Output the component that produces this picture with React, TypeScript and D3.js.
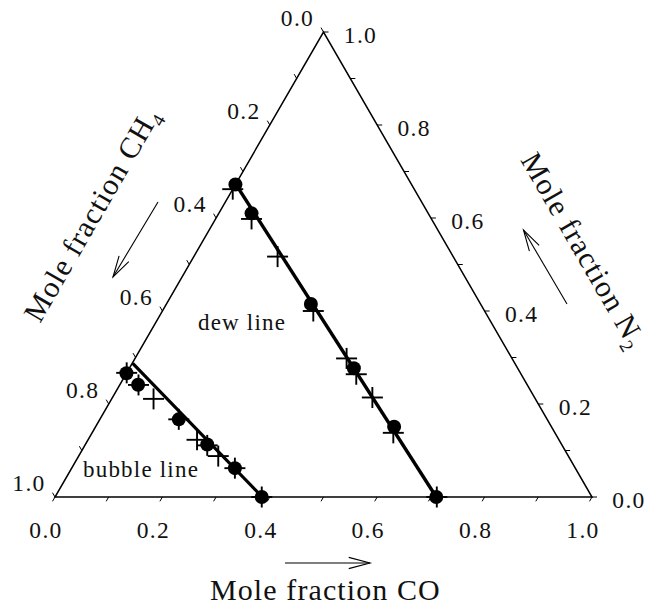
import React from "react";
import * as d3 from "d3";

// Ternary data: each point given by mole fraction CO and N2 (CH4 = 1 - CO - N2)
const dewCircleCO = [0.0, 0.061, 0.269, 0.418, 0.556, 0.71];
const dewCircleN2 = [0.672, 0.61, 0.415, 0.277, 0.151, 0.0];
const dewPlusCO = [0.0, 0.067, 0.156, 0.281, 0.394, 0.429, 0.484, 0.561, 0.711];
const dewPlusN2 = [0.662, 0.598, 0.517, 0.4, 0.298, 0.264, 0.214, 0.138, 0.0];
const dewLineCO = [0.0, 0.71];
const dewLineN2 = [0.673, 0.0];

const bubbleCircleCO = [0.0, 0.034, 0.147, 0.227, 0.304, 0.385];
const bubbleCircleN2 = [0.266, 0.2415, 0.167, 0.113, 0.062, 0.0];
const bubblePlusCO = [0.0, 0.035, 0.078, 0.147, 0.203, 0.228, 0.26, 0.304, 0.385];
const bubblePlusN2 = [0.267, 0.241, 0.211, 0.167, 0.123, 0.111, 0.088, 0.062, 0.0];
const bubbleLineCO = [0.001, 0.386];
const bubbleLineN2 = [0.2875, 0.0];

const tickValues = [0, 0.1, 0.2, 0.3, 0.4, 0.5, 0.6, 0.7, 0.8, 0.9, 1.0];
const labelValues = [0, 0.2, 0.4, 0.6, 0.8, 1.0];

const W = 647;
const H = 614;
const FONT = "'Liberation Serif', 'Times New Roman', Times, serif";

const xs = d3.scaleLinear().domain([0, 1]).range([55, 592]);
const ys = d3.scaleLinear().domain([0, 1]).range([497, 32]);
const proj = (co: number, n2: number): [number, number] => [xs(co + n2 / 2), ys(n2)];

const zip = (a: number[], b: number[]) => a.map((v, i) => proj(v, b[i]));

function Arrow({ x1, y1, x2, y2 }: { x1: number; y1: number; x2: number; y2: number }) {
  const ang = Math.atan2(y2 - y1, x2 - x1);
  const L = 22;
  const spread = 0.26;
  const h1: [number, number] = [x2 - L * Math.cos(ang - spread), y2 - L * Math.sin(ang - spread)];
  const h2: [number, number] = [x2 - L * Math.cos(ang + spread), y2 - L * Math.sin(ang + spread)];
  return (
    <g stroke="#000" strokeWidth={1.1} fill="none">
      <line x1={x1} y1={y1} x2={x2} y2={y2} />
      <polyline points={`${h1[0]},${h1[1]} ${x2},${y2} ${h2[0]},${h2[1]}`} />
    </g>
  );
}

export default function App() {
  const fmt = d3.format(".1f");
  const A = proj(0, 0); // CH4 = 1
  const B = proj(1, 0); // CO = 1
  const C = proj(0, 1); // N2 = 1
  const line = d3.line<[number, number]>();
  const tl = 5;
  const c60 = 0.5;
  const s60 = Math.sqrt(3) / 2;

  const plus = (p: [number, number], i: number, key: string) => (
    <g key={key + i} stroke="#000" strokeWidth={1.9}>
      <line x1={p[0] - 10.5} y1={p[1]} x2={p[0] + 10.5} y2={p[1]} />
      <line x1={p[0]} y1={p[1] - 10.5} x2={p[0]} y2={p[1] + 10.5} />
    </g>
  );
  const dot = (p: [number, number], i: number, key: string) => (
    <circle key={key + i} cx={p[0]} cy={p[1]} r={7} fill="#000" />
  );

  return (
    <svg
      width={W}
      height={H}
      style={{ position: "absolute", left: 0, top: 0, background: "#fff" }}
      fontFamily={FONT}
    >
      <rect x={0} y={0} width={W} height={H} fill="#fff" />
      {/* triangle */}
      <path d={line([A, B, C, A])! + "Z"} fill="none" stroke="#000" strokeWidth={1.5} strokeLinejoin="miter" />

      {/* ticks */}
      {tickValues.map((v) => {
        const p = proj(v, 0); // bottom: CO
        return <line key={"bt" + v} x1={p[0]} y1={p[1]} x2={p[0] - tl * c60} y2={p[1] + tl * s60} stroke="#000" strokeWidth={1} />;
      })}
      {tickValues.map((v) => {
        const p = proj(1 - v, v); // right: N2
        return <line key={"rt" + v} x1={p[0]} y1={p[1]} x2={p[0] + tl} y2={p[1]} stroke="#000" strokeWidth={1} />;
      })}
      {tickValues.map((v) => {
        const p = proj(0, 1 - v); // left: CH4 = v
        return <line key={"lt" + v} x1={p[0]} y1={p[1]} x2={p[0] - tl * c60} y2={p[1] - tl * s60} stroke="#000" strokeWidth={1} />;
      })}

      {/* tick labels */}
      <g fontSize={23.5} letterSpacing={1.3} fill="#111">
        {labelValues.map((v) => {
          const p = proj(v, 0);
          return (
            <text key={"bl" + v} x={p[0] - 9} y={p[1] + 41} textAnchor="middle">
              {fmt(v)}
            </text>
          );
        })}
        {labelValues.map((v) => {
          const p = proj(1 - v, v);
          return (
            <text key={"rl" + v} x={p[0] + 37} y={p[1] + 10.5} textAnchor="middle">
              {fmt(v)}
            </text>
          );
        })}
        {labelValues.map((v) => {
          const p = proj(0, 1 - v);
          return (
            <text key={"ll" + v} x={p[0] - 26} y={p[1] - 6} textAnchor="middle">
              {fmt(v)}
            </text>
          );
        })}
      </g>

      {/* model lines */}
      <path d={line(zip(dewLineCO, dewLineN2))!} stroke="#000" strokeWidth={3.4} fill="none" />
      <path d={line(zip(bubbleLineCO, bubbleLineN2))!} stroke="#000" strokeWidth={3.2} fill="none" />

      {/* markers */}
      {zip(dewPlusCO, dewPlusN2).map((p, i) => plus(p, i, "dp"))}
      {zip(bubblePlusCO, bubblePlusN2).map((p, i) => plus(p, i, "bp"))}
      {zip(dewCircleCO, dewCircleN2).map((p, i) => dot(p, i, "dc"))}
      {zip(bubbleCircleCO, bubbleCircleN2).map((p, i) => dot(p, i, "bc"))}

      {/* in-plot labels */}
      <g fontSize={23} letterSpacing={1.2} fill="#111">
        <text x={198} y={330}>dew line</text>
        <text x={83} y={477}>bubble line</text>
      </g>

      {/* axis titles */}
      <g fontSize={30} letterSpacing={1.1} fill="#111">
        <text x={210} y={600}>Mole fraction CO</text>
        <text transform="translate(40,324) rotate(-60)">
          Mole fraction CH
          <tspan fontSize={19} dy={7}>4</tspan>
        </text>
        <text transform="translate(520,160) rotate(60)">
          Mole fraction N
          <tspan fontSize={19} dy={7}>2</tspan>
        </text>
      </g>

      {/* arrows */}
      <Arrow x1={285} y1={563} x2={370} y2={563} />
      <Arrow x1={158} y1={202} x2={113} y2={277} />
      <Arrow x1={567} y1={304} x2={523.5} y2={230} />
    </svg>
  );
}
